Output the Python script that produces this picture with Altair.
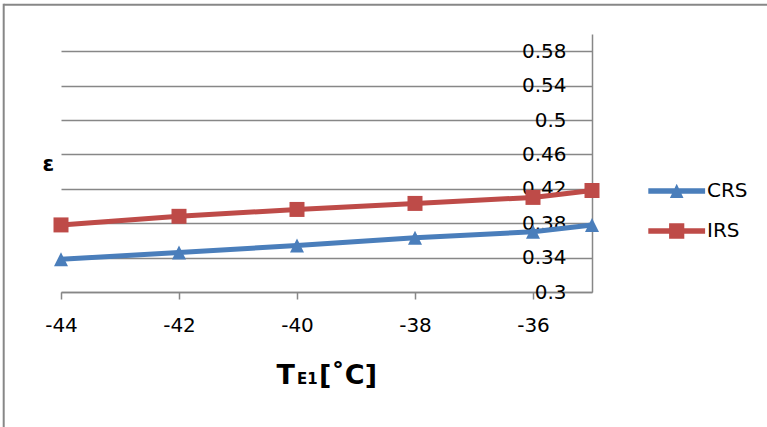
import altair as alt
import pandas as pd

# ---- data ----
x_vals = [-44, -42, -40, -38, -36, -35]
crs_vals = [0.338, 0.346, 0.354, 0.363, 0.370, 0.378]
irs_vals = [0.378, 0.388, 0.396, 0.403, 0.410, 0.418]
series_names = ["CRS", "IRS"]
series_colors = ["#4A7EBB", "#BE4B48"]
x_ticks = [-44, -42, -40, -38, -36]
y_ticks = [0.3, 0.34, 0.38, 0.42, 0.46, 0.5, 0.54, 0.58]

rows = []
for xv, c, r in zip(x_vals, crs_vals, irs_vals):
    rows.append({"x": xv, "value": c, "series": "CRS"})
    rows.append({"x": xv, "value": r, "series": "IRS"})
df = pd.DataFrame(rows)

GRAY = "#878787"
FONT = "DejaVu Sans"

x_enc = alt.X(
    "x:Q",
    scale=alt.Scale(domain=[-44, -35], nice=False, zero=False),
    axis=alt.Axis(
        values=x_ticks, title=None, grid=False, tickSize=7, tickWidth=1.5,
        tickColor=GRAY, domainColor=GRAY, domainWidth=1.5,
        labelFont=FONT, labelFontSize=20, labelColor="black",
        labelPadding=26, labelBaseline="middle", labelFlush=False,
        labelOverlap=False, labelExpr="toString(datum.value)",
    ),
)
y_enc = alt.Y(
    "value:Q",
    scale=alt.Scale(domain=[0.3, 0.6], nice=False, zero=False),
    axis=alt.Axis(
        orient="right", values=y_ticks, title=None, format=".2~f",
        grid=True, gridColor=GRAY, gridWidth=1.5,
        ticks=False, tickSize=0, domainColor=GRAY, domainWidth=1.5,
        labelFont=FONT, labelFontSize=20, labelColor="black",
        labelAlign="right", labelBaseline="middle", labelPadding=-26,
        labelFlush=False, labelOverlap=False,
    ),
)
color_scale = alt.Scale(domain=series_names, range=series_colors)

# legend symbols: line segment + marker (units: 1 = 20 px)
legend_paths = [
    "M-1.42,-0.14L1.42,-0.14L1.42,0.14L-1.42,0.14Z M0,-0.36L0.34,0.35L-0.34,0.35Z",
    "M-1.42,-0.14L1.42,-0.14L1.42,0.14L-1.42,0.14Z M-0.38,-0.39L0.38,-0.39L0.38,0.39L-0.38,0.39Z",
]
legend_def = alt.Legend(
    orient="none", legendX=595.7, legendY=137, title=None, padding=0,
    labelFont=FONT, labelFontSize=20, labelColor="black", labelOffset=10.3,
    rowPadding=10, symbolSize=1600, symbolStrokeWidth=0, symbolOpacity=1,
)

base = alt.Chart(df)
one = alt.Data(values=[{"a": 1}])

# outer frame (top and left edges visible in the reference)
frame_top = alt.Chart(one).mark_rule(color=GRAY, strokeWidth=2).encode(
    x=alt.value(-57.3), x2=alt.value(706), y=alt.value(-29.3))
frame_left = alt.Chart(one).mark_rule(color=GRAY, strokeWidth=2).encode(
    x=alt.value(-57.3), y=alt.value(-30.3), y2=alt.value(393))

layers = [frame_top, frame_left]
shapes = {"CRS": ("M0,-1L1,1L-1,1Z", 196), "IRS": ("square", 225)}
for name, col in zip(series_names, series_colors):
    sub = base.transform_filter(alt.datum.series == name)
    layers.append(sub.mark_line(color=col, strokeWidth=5, strokeJoin="round",
                                strokeCap="round").encode(x=x_enc, y=y_enc))
for name, col in zip(series_names, series_colors):
    sub = base.transform_filter(alt.datum.series == name)
    shp, sz = shapes[name]
    layers.append(sub.mark_point(shape=shp, filled=True, size=sz, opacity=1,
                                 color=col).encode(x=x_enc, y=y_enc))

legend_layer = base.transform_filter("false").mark_point(
    filled=True, size=1600, strokeWidth=0, opacity=1
).encode(
    x=x_enc, y=y_enc,
    color=alt.Color("series:N", scale=color_scale, legend=legend_def),
    shape=alt.Shape("series:N", scale=alt.Scale(domain=series_names, range=legend_paths),
                    legend=legend_def),
)
layers.append(legend_layer)

eps = alt.Chart(one).mark_text(
    text="ε", font=FONT, fontSize=21, fontWeight="bold", align="center",
    baseline="alphabetic", color="black"
).encode(x=alt.value(-12.7), y=alt.value(136.7))
t1 = alt.Chart(one).mark_text(
    text="T", font=FONT, fontSize=27, fontWeight="bold", align="left",
    baseline="alphabetic", color="black"
).encode(x=alt.value(215.5), y=alt.value(350))
t2 = alt.Chart(one).mark_text(
    text="E1", font=FONT, fontSize=15, fontWeight="bold", align="left",
    baseline="alphabetic", color="black"
).encode(x=alt.value(236), y=alt.value(350))
t3 = alt.Chart(one).mark_text(
    text="[˚C]", font=FONT, fontSize=27, fontWeight="bold", align="left",
    baseline="alphabetic", color="black"
).encode(x=alt.value(258), y=alt.value(350))
layers += [eps, t1, t2, t3]

chart = alt.layer(*layers).properties(
    width=531, height=258,
    padding={"left": 61, "top": 34, "right": 175, "bottom": 135},
    autosize=alt.AutoSizeParams(type="none"),
    background="white",
).configure_view(stroke=None)

chart.save("out.html", embed_options={"renderer": "svg", "actions": False})
